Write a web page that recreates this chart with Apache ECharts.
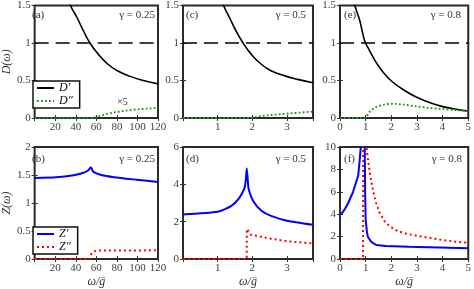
<!DOCTYPE html>
<html><head><meta charset="utf-8">
<script src="https://cdn.jsdelivr.net/npm/echarts/dist/echarts.min.js"></script>
<style>html,body{margin:0;padding:0;background:#fff}#c{width:474px;height:289px}</style>
</head><body><div id="c"></div>
<script>
// ---- data ----
const gammaLabels = ['γ = 0.25', 'γ = 0.5', 'γ = 0.8'];
const panelLetters = ['(a)', '(c)', '(e)', '(b)', '(d)', '(f)'];
// panel (a): gamma 0.25, D
const aDp = [[32,1.65],[34.9,1.5],[41.2,1.34],[47.5,1.16],[53.8,1.0],[61.6,0.855],[71,0.72],[80.5,0.63],[93,0.555],[105.7,0.50],[120,0.455]];
const aDpp = [[0,0],[57,0],[60,0.012],[68,0.045],[77,0.075],[87,0.095],[99,0.115],[112,0.128],[120,0.135]];
// panel (c): gamma 0.5, D
const cDp = [[1.1,1.6],[1.17,1.5],[1.34,1.34],[1.53,1.16],[1.72,1.01],[1.96,0.855],[2.25,0.72],[2.54,0.63],[2.92,0.565],[3.31,0.515],[3.75,0.47]];
const cDpp = [[0,0],[1.95,0],[2.25,0.025],[2.54,0.04],[2.92,0.055],[3.31,0.07],[3.75,0.085]];
// panel (e): gamma 0.8, D
const eDp = [[0.55,1.6],[0.58,1.5],[0.77,1.3],[0.96,1.03],[1.15,0.9],[1.41,0.74],[1.73,0.59],[2.05,0.48],[2.5,0.37],[2.97,0.28],[3.46,0.21],[3.97,0.155],[4.49,0.12],[5,0.09]];
const eDpp = [[0,0],[0.96,0],[1.15,0.08],[1.41,0.146],[1.73,0.178],[2.05,0.19],[2.5,0.178],[2.97,0.155],[3.46,0.135],[3.97,0.12],[4.49,0.105],[5,0.09]];
// panel (b): gamma 0.25, Z
const bZp = [[0,1.445],[20.8,1.46],[36.5,1.49],[46,1.53],[52,1.58],[54.7,1.64],[56.9,1.56],[64.8,1.5],[77.4,1.46],[99.4,1.415],[120,1.375]];
const bZpp = [[0,0],[54.5,0],[55,0.09],[57,0.13],[60,0.15],[120,0.155]];
// panel (d): gamma 0.5, Z
const dZp = [[0,2.39],[1,2.53],[1.385,2.83],[1.62,3.26],[1.77,3.78],[1.81,4.2],[1.84,4.85],[1.87,4.2],[1.89,3.78],[2.03,3.09],[2.27,2.57],[2.54,2.31],[3,2.05],[3.75,1.83]];
const dZpp = [[0,0],[1.839,0],[1.84,1.61],[1.96,1.3],[2.27,1.18],[2.54,1.09],[2.92,0.97],[3.31,0.9],[3.75,0.83]];
// panel (f): gamma 0.8, Z
const fZp = [[0,3.95],[0.08,4.1],[0.2,4.5],[0.32,5.0],[0.51,6.0],[0.71,7.45],[0.77,8.9],[0.81,10],[0.84,11],[0.96,11],[0.98,6],[1.0,3.5],[1.05,2.4],[1.09,1.97],[1.22,1.53],[1.41,1.25],[1.79,1.16],[2.69,1.1],[5,0.96]];
const fZpp = [[0,0],[0.899,0],[0.9,10.5],[1.0,10.5],[1.03,10],[1.09,8.9],[1.15,7.9],[1.22,6.9],[1.3,6.0],[1.41,5.0],[1.55,4.1],[1.73,3.4],[1.92,2.95],[2.2,2.55],[2.5,2.3],[2.82,2.15],[3.33,1.95],[3.97,1.7],[4.5,1.55],[5,1.45]];
const refLine = 1;

// ---- layout ----
const FONT = 'Liberation Serif';
const grids = [
  {left:28, top:5, width:130, height:113},
  {left:183, top:5, width:130, height:113},
  {left:340, top:5, width:130, height:113},
  {left:28, top:147, width:130, height:116},
  {left:183, top:147, width:130, height:116},
  {left:340, top:147, width:130, height:116}
];
const xr = [
  {min:0,max:120,interval:20,minL:false,maxL:true},
  {min:0,max:3.75,interval:1,minL:false,maxL:false},
  {min:0,max:5,interval:1,minL:true,maxL:true}
];
const yr = [
  {min:0,max:1.5,interval:0.5},{min:0,max:1.5,interval:0.5},{min:0,max:1.5,interval:0.5},
  {min:0,max:2,interval:0.5},{min:0,max:6,interval:2},{min:0,max:10,interval:2}
];
const tick = {inside:true,length:3,lineStyle:{color:'#333',width:1}};
const xAxis = [], yAxis = [];
grids.forEach((g,i)=>{
  const x = xr[i%3], y = yr[i];
  const bottomRow = i>=3;
  xAxis.push({gridIndex:i,type:'value',position:'bottom',min:x.min,max:x.max,interval:x.interval,
    axisLine:{show:false},axisTick:tick,splitLine:{show:false},
    axisLabel:{fontFamily:FONT,fontSize:11,color:'#404040',margin:4,showMinLabel:x.minL,showMaxLabel:x.maxL},
    name: bottomRow ? 'ω/ḡ' : '', nameLocation:'middle', nameGap:17,
    nameTextStyle:{fontFamily:FONT,fontSize:12,fontStyle:'italic',color:'#333'}});
  xAxis.push({gridIndex:i,type:'value',position:'top',min:x.min,max:x.max,interval:x.interval,
    axisLine:{show:false},axisTick:tick,splitLine:{show:false},axisLabel:{show:false}});
  yAxis.push({gridIndex:i,type:'value',position:'left',min:y.min,max:y.max,interval:y.interval,
    axisLine:{show:false},axisTick:tick,splitLine:{show:false},
    axisLabel:{fontFamily:FONT,fontSize:11,color:'#404040',margin:4},
    name: i===0 ? 'D(ω)' : (i===3 ? 'Z(ω)' : ''), nameLocation:'middle', nameGap:18,
    nameTextStyle:{fontFamily:FONT,fontSize:12,fontStyle:'italic',color:'#333'}});
  yAxis.push({gridIndex:i,type:'value',position:'right',min:y.min,max:y.max,interval:y.interval,
    axisLine:{show:false},axisTick:tick,splitLine:{show:false},axisLabel:{show:false}});
});

const solidBlack = {color:'#000',width:1.6,type:'solid'};
const dotGreen = {color:'#1f8f1f',width:1.8,type:[1.8,2.2]};
const solidBlue = {color:'#0000ff',width:2,type:'solid'};
const dotRed = {color:'#ff0000',width:2,type:[2,3]};
function ser(name, data, i, ls, smooth, mark){
  const s = {name, type:'line', data, xAxisIndex:2*i, yAxisIndex:2*i, showSymbol:false, symbol:'none',
    smooth: smooth,
    lineStyle:ls, itemStyle:{color:ls.color}, clip:true, silent:true, animation:false, z:3};
  if (mark) s.markLine = {silent:true, symbol:['none','none'], label:{show:false},
    lineStyle:{color:'#000',width:1.5,type:[14,7]}, data:[{yAxis:refLine}], animation:false};
  return s;
}
const series = [
  ser('D′', aDp, 0, solidBlack, 0.5, true), ser('D″', aDpp, 0, dotGreen, false),
  ser('D′', cDp, 1, solidBlack, 0.5, true), ser('D″', cDpp, 1, dotGreen, false),
  ser('D′', eDp, 2, solidBlack, 0.3, true), ser('D″', eDpp, 2, dotGreen, 0.3),
  ser('Z′', bZp, 3, solidBlue, 0.2), ser('Z″', bZpp, 3, dotRed, false),
  ser('Z′', dZp, 4, solidBlue, 0.2), ser('Z″', dZpp, 4, dotRed, false),
  ser('Z′', fZp, 5, solidBlue, false), ser('Z″', fZpp, 5, dotRed, false)
];

const legendBase = {orient:'vertical', left:33, itemWidth:17, itemHeight:8, itemGap:1,
  padding:[1,7,1,3], borderColor:'#111', borderWidth:1.5, backgroundColor:'#fff', selectedMode:false,
  itemStyle:{color:'transparent', borderColor:'transparent', borderWidth:0, opacity:0},
  textStyle:{fontFamily:FONT,fontSize:12,fontStyle:'italic',color:'#111'}};
const legend = [
  Object.assign({}, legendBase, {top:81, data:['D′','D″']}),
  Object.assign({}, legendBase, {top:227, data:['Z′','Z″']})
];

const graphic = [];
const txt = {fontFamily:FONT, fontSize:11, fill:'#333'};
const letterPos = [[32,10],[186,10],[344,10],[32,154],[186,154],[344,154]];
const gammaRight = [155,306,461,155,306,462];
grids.forEach((g,i)=>{
  graphic.push({type:'text', left:letterPos[i][0], top:letterPos[i][1], style:Object.assign({text:panelLetters[i]}, txt), z:10});
  graphic.push({type:'text', right:474-gammaRight[i], top:letterPos[i][1], style:Object.assign({text:gammaLabels[i%3]}, txt), z:10});
});
graphic.push({type:'text', left:117, top:97, style:Object.assign({text:'×5'}, txt, {fontSize:10}), z:10});

const chart = echarts.init(document.getElementById('c'), null, {renderer:'canvas'});
chart.setOption({
  animation:false,
  grid: grids.map(g=>Object.assign({show:true, borderColor:'#2a2a2a', borderWidth:2, backgroundColor:'transparent'}, g)),
  xAxis, yAxis, series, legend, graphic
});
</script></body></html>
